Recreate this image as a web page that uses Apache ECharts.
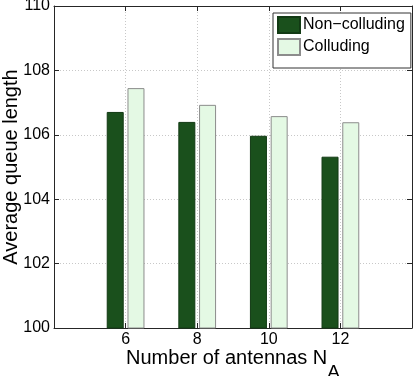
<!DOCTYPE html>
<html>
<head>
<meta charset="utf-8">
<script src="https://cdn.jsdelivr.net/npm/echarts@6/dist/echarts.min.js"></script>
<style>
html,body{margin:0;padding:0;background:#fff;}
#chart{width:414px;height:376px;}
</style>
</head>
<body>
<div id="chart"></div>
<script>
const antennas = [6, 8, 10, 12];
const nonColluding = [106.71, 106.40, 105.97, 105.32];
const colluding = [107.45, 106.93, 106.58, 106.39];
const seriesNames = ['Non\u2212colluding', 'Colluding'];

const FONT = 'Liberation Sans, Arial, Helvetica, sans-serif';
const chart = echarts.init(document.getElementById('chart'), null, {renderer: 'canvas'});

const axisLineStyle = {color: '#262626', width: 1};
const gridLine = {show: true, lineStyle: {color: '#c8c8c8', type: [1, 2], width: 1}};

chart.setOption({
  animation: false,
  textStyle: {fontFamily: FONT},
  grid: {left: 54, right: 2, top: 6, bottom: 48, containLabel: false, outerBoundsMode: 'none'},
  legend: {
    data: seriesNames,
    orient: 'vertical',
    left: 273, top: 13,
    itemWidth: 22, itemHeight: 16, itemGap: 4,
    padding: [3, 6, 12, 4],
    borderColor: '#333', borderWidth: 1, backgroundColor: '#fff',
    icon: 'rect',
    textStyle: {fontFamily: FONT, fontSize: 16, color: '#000', lineHeight: 16, padding: [0,0,0,-2]}
  },
  xAxis: [{
    type: 'value', min: 4, max: 14, interval: 2,
    axisLine: {show: true, lineStyle: axisLineStyle},
    axisTick: {show: true, inside: true, length: 5, lineStyle: axisLineStyle},
    axisLabel: {fontFamily: FONT, fontSize: 16, color: '#000', margin: 4,
      formatter: v => (v === 4 || v === 14) ? '' : String(v)},
    splitLine: gridLine,
    name: '{n|Number of antennas N}{s|A}',
    nameLocation: 'middle', nameGap: 20, nameMoveOverlap: false,
    nameTextStyle: {
      fontFamily: FONT, color: '#000', fontSize: 20,
      rich: {
        n: {fontFamily: FONT, fontSize: 20, color: '#000', lineHeight: 20, verticalAlign: 'top'},
        s: {fontFamily: FONT, fontSize: 19, color: '#000', lineHeight: 50, verticalAlign: 'middle'}
      }
    }
  }, {
    type: 'value', min: 4, max: 14, interval: 2, position: 'top',
    axisLine: {show: true, lineStyle: axisLineStyle},
    axisTick: {show: true, inside: true, length: 5, lineStyle: axisLineStyle},
    axisLabel: {show: false}, splitLine: {show: false}
  }],
  yAxis: [{
    type: 'value', min: 100, max: 110, interval: 2,
    axisLine: {show: true, lineStyle: axisLineStyle},
    axisTick: {show: true, inside: true, length: 5, lineStyle: axisLineStyle},
    axisLabel: {fontFamily: FONT, fontSize: 16, color: '#000', margin: 4},
    splitLine: gridLine,
    name: 'Average queue length',
    nameLocation: 'middle', nameGap: 33, nameMoveOverlap: false,
    nameTextStyle: {fontFamily: FONT, fontSize: 20, color: '#000', lineHeight: 20}
  }, {
    type: 'value', min: 100, max: 110, interval: 2, position: 'right',
    axisLine: {show: true, lineStyle: axisLineStyle},
    axisTick: {show: true, inside: true, length: 5, lineStyle: axisLineStyle},
    axisLabel: {show: false}, splitLine: {show: false}
  }],
  series: [{
    name: seriesNames[0], type: 'bar', xAxisIndex: 0, yAxisIndex: 0,
    barWidth: 17, barGap: '22%',
    itemStyle: {color: '#1a501c', borderColor: '#123a14', borderWidth: 1},
    data: antennas.map((a, i) => [a, nonColluding[i]])
  }, {
    name: seriesNames[1], type: 'bar', xAxisIndex: 0, yAxisIndex: 0,
    barWidth: 17, barGap: '22%',
    itemStyle: {color: '#e4f9e4', borderColor: '#8c8c8c', borderWidth: 1},
    data: antennas.map((a, i) => [a, colluding[i]])
  }]
});
</script>
</body>
</html>
